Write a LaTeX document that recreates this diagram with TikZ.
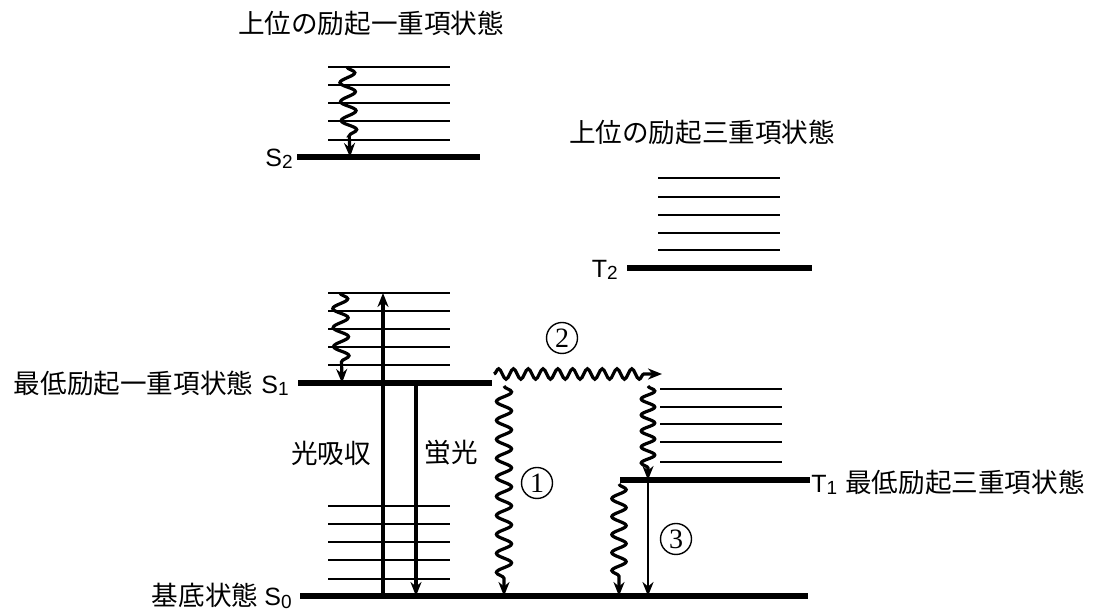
\documentclass[tikz,border=0pt]{standalone}
\usepackage{fontspec}
\setmainfont{Liberation Sans}
\newfontfamily\jpfont{Noto Sans CJK JP}
\newfontfamily\numfont{Liberation Serif}
\usetikzlibrary{arrows.meta,decorations.pathmorphing}
\newcommand{\lvl}[2]{{\fontsize{12.5}{14}\selectfont #1\raisebox{-1.2pt}{\fontsize{9.5}{10}\selectfont #2}}}

\begin{document}
\begin{tikzpicture}[x=0.5pt,y=-0.5pt,
  level/.style={line width=3pt},
  sublevel/.style={line width=1pt},
  wavy/.style={-{Stealth[length=7pt,width=5.5pt]},line width=1.6pt,decorate,
    decoration={snake,amplitude=3.8pt,segment length=9.5pt,post length=6pt}},
  flatwavy/.style={wavy,decoration={snake,amplitude=2.6pt,segment length=7.4pt,post length=6pt}},
  photon/.style={-{Stealth[length=7pt,width=5.5pt]},line width=1.6pt},
  jplabel/.style={font=\jpfont\fontsize{13.3}{16}\selectfont,inner sep=0pt},
  statelabel/.style={font=\fontsize{13.3}{16}\selectfont,inner sep=0pt},
  circnum/.style={circle,draw,line width=0.7pt,minimum size=15.5pt,inner sep=0pt,font=\numfont\fontsize{14}{14}\selectfont}]
  \useasboundingbox (0,0) rectangle (1104,613);
  % S2: upper singlet
  \node[jplabel] (s2title) at (371,23) {上位の励起一重項状態};
  \foreach \y in {67,85,103,121,140} \draw[sublevel] (328,\y) -- (450,\y);
  \draw[level] (297,157) -- (480,157);
  \node[statelabel,anchor=east] (s2lab) at (293,159) {\lvl{S}{2}};
  \coordinate (s2a) at (347,67);
  \coordinate (s2b) at (350,157);
  \draw[wavy] (s2a) -- (s2b);
  % T2: upper triplet
  \node[jplabel] (t2title) at (702,132) {上位の励起三重項状態};
  \foreach \y in {178,197,215,233,250} \draw[sublevel] (658,\y) -- (780,\y);
  \draw[level] (627,268) -- (812,268);
  \node[statelabel,anchor=east] (t2lab) at (618,270) {\lvl{T}{2}};
  % S1: lowest singlet
  \foreach \y in {293,311,329,347,365} \draw[sublevel] (328,\y) -- (450,\y);
  \draw[level] (298,383) -- (492,383);
  \node[statelabel,anchor=east] (s1lab) at (289,383) {{\jpfont 最低励起一重項状態}\hspace{4pt}\lvl{S}{1}};
  \coordinate (s1a) at (340,293);
  \coordinate (s1b) at (342,383);
  \draw[wavy] (s1a) -- (s1b);
  % T1: lowest triplet
  \foreach \y in {389,407,424,442,462} \draw[sublevel] (660,\y) -- (782,\y);
  \draw[level] (620,480) -- (810,480);
  \node[statelabel,anchor=west] (t1lab) at (811,482) {\lvl{T}{1}\hspace{4pt}{\jpfont 最低励起三重項状態}};
  % S0: ground state
  \foreach \y in {506,524,542,560,579} \draw[sublevel] (328,\y) -- (450,\y);
  \draw[level] (300,596) -- (808,596);
  \node[statelabel,anchor=east] (s0lab) at (292,596) {{\jpfont 基底状態}\hspace{3pt}\lvl{S}{0}};
  % absorption and fluorescence
  \coordinate (absa) at (383,596);
  \coordinate (absb) at (383,293);
  \coordinate (flua) at (416,383);
  \coordinate (flub) at (416,596);
  \draw[photon] (absa) -- (absb);
  \draw[photon] (flua) -- (flub);
  \node[jplabel] (abslab) at (331,453) {光吸収};
  \node[jplabel] (flulab) at (451,453) {蛍光};
  % (1) internal conversion
  \coordinate (ica) at (504,386);
  \coordinate (icb) at (504,596);
  \draw[wavy] (ica) -- (icb);
  \node[circnum] (n1) at (537,483) {1};
  % (2) intersystem crossing
  \coordinate (isca) at (494,374);
  \coordinate (iscb) at (662,374);
  \draw[flatwavy] (isca) -- (iscb);
  \node[circnum] (n2) at (562,338) {2};
  \coordinate (tra) at (648,386);
  \coordinate (trb) at (648,480);
  \draw[wavy,decoration={snake,amplitude=3.4pt,segment length=8pt,post length=6pt}] (tra) -- (trb);
  % (3) phosphorescence
  \coordinate (phb) at (648,596);
  \draw[photon,line width=1.1pt] (trb) -- (phb);
  \node[circnum] (n3) at (676,539) {3};
  \coordinate (t1a) at (619,484);
  \coordinate (t1b) at (619,596);
  \draw[wavy,decoration={snake,amplitude=3.6pt,segment length=9pt,post length=6pt}] (t1a) -- (t1b);
\end{tikzpicture}
\end{document}
